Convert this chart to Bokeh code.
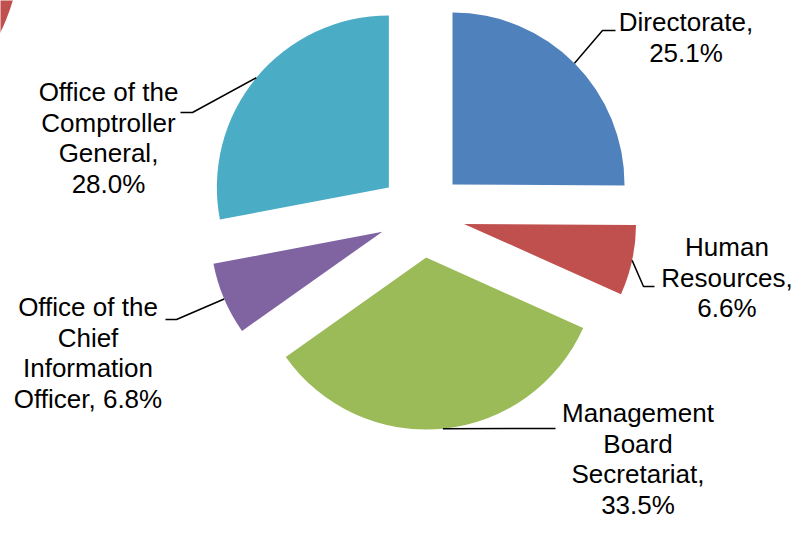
import numpy as np
from bokeh.plotting import figure
from bokeh.models import Range1d, ColumnDataSource
from bokeh.core.properties import value
from bokeh.embed import file_html
from bokeh.resources import INLINE

# ---- data ----
categories = ["Directorate", "Human Resources", "Management Board Secretariat",
              "Office of the Chief Information Officer", "Office of the Comptroller General"]
shares = [25.1, 6.6, 33.5, 6.8, 28.0]
colors = ["#4F81BD", "#C0504D", "#9BBB59", "#8064A2", "#4BACC6"]
label_text = ["Directorate,\n25.1%",
              "Human\nResources,\n6.6%",
              "Management\nBoard\nSecretariat,\n33.5%",
              "Office of the\nChief\nInformation\nOfficer, 6.8%",
              "Office of the\nComptroller\nGeneral,\n28.0%"]

# ---- layout (pixel coordinates inside the figure, y measured downward) ----
FW, FH = 794, 518
cx, cy = 421.5, 214.3
radius = 172
explode = 43
label_x = [685.5, 726.5, 637.5, 87.5, 108.0]
label_y = [32, 257, 423, 317, 102]      # first-line baselines
baseline_fix = 10.5                      # renderer places text this much lower
line_step = 30.5
elbow_x = [602, 643, 545, 176, 192]
elbow_y = [30, 286, 428, 319, 112]
leader_end_x = [615, 654, 555, 165, 180]
corner_x, corner_y, corner_r = -174, -54, 194
FONT = "Liberation Sans"
FONT_SIZE = "26px"

p = figure(width=FW, height=FH,
           x_range=Range1d(0, FW), y_range=Range1d(0, FH),
           x_axis_type=None, y_axis_type=None, toolbar_location=None,
           output_backend="svg", min_border=0)
p.grid.visible = False
p.outline_line_color = None
p.background_fill_color = "white"
p.border_fill_color = "white"

# decorative partial slice in the corner
p.circle(x=[corner_x], y=[FH - corner_y], radius=corner_r, fill_color="#C0504D",
         line_color=None)

vals = np.array(shares, dtype=float)
total = vals.sum()
cum = np.cumsum(vals)
before = cum - vals
a_start = np.pi / 2 - 2 * np.pi * cum / total
a_end = np.pi / 2 - 2 * np.pi * before / total
mid = (a_start + a_end) / 2
vx = cx + explode * np.cos(mid)
vy = (FH - cy) + explode * np.sin(mid)

src = ColumnDataSource(dict(x=vx, y=vy, start=a_start, end=a_end, color=colors,
                            name=categories, share=shares))
p.wedge(x="x", y="y", radius=radius, start_angle="start", end_angle="end",
        direction="anticlock", fill_color="color", line_color=None, source=src)

# leader lines
sx = vx + radius * np.cos(mid)
sy = vy + radius * np.sin(mid)
xs = [[sx[i], elbow_x[i], leader_end_x[i]] for i in range(len(vals))]
ys = [[sy[i], FH - elbow_y[i], FH - elbow_y[i]] for i in range(len(vals))]
p.multi_line(xs=xs, ys=ys, line_color="black", line_width=1.5)

# labels
tx, ty, tt = [], [], []
for i, lab in enumerate(label_text):
    for j, line in enumerate(lab.split("\n")):
        tx.append(label_x[i])
        ty.append(FH - (label_y[i] - baseline_fix + j * line_step))
        tt.append(line)
p.text(x=tx, y=ty, text=tt, text_align="center", text_baseline="alphabetic",
       text_font=value(FONT), text_font_size=FONT_SIZE, text_color="black")

open("out.html", "w").write(file_html(p, INLINE))
